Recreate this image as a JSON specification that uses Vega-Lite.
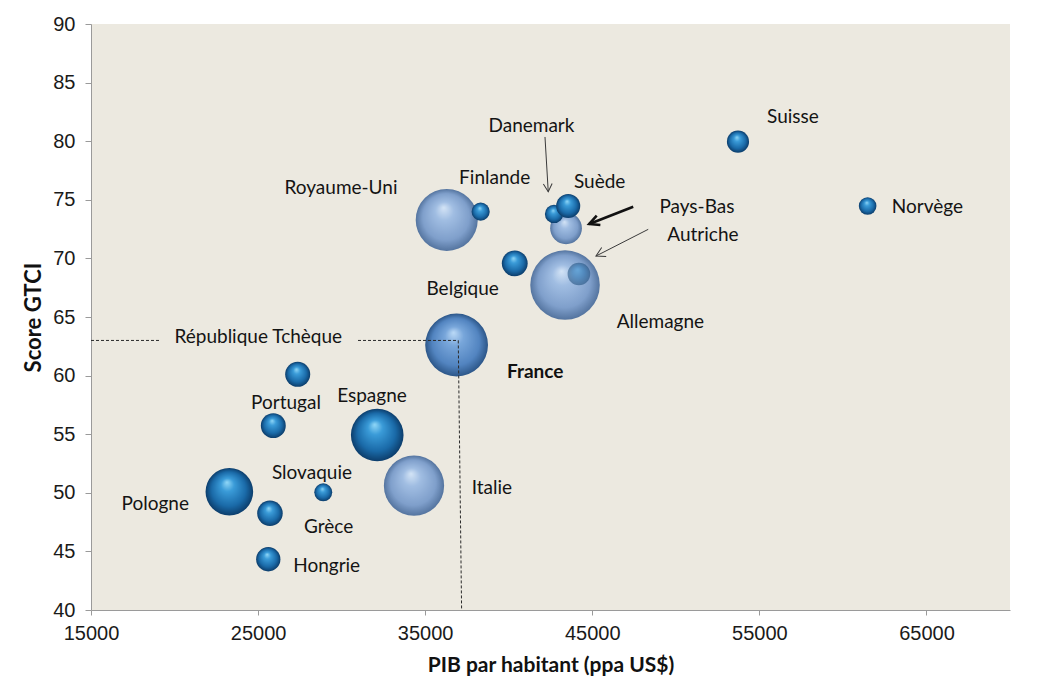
{
  "$schema": "https://vega.github.io/schema/vega-lite/v6.json",
  "width": 919,
  "height": 586,
  "autosize": {"type": "none"},
  "padding": {"left": 91, "top": 24, "right": 35, "bottom": 76},
  "background": "white",
  "config": {"view": {"fill": "#ECE9E0", "stroke": null}, "font": "Lato"},
  "datasets": {
    "pays": [
      {"pays": "Royaume-Uni", "pib": 36290, "gtci": 73.28, "pop": 64.5, "teinte": "clair"},
      {"pays": "Pays-Bas", "pib": 43430, "gtci": 72.57, "pop": 16.9, "teinte": "clair"},
      {"pays": "Italie", "pib": 34330, "gtci": 50.61, "pop": 60.8, "teinte": "clair"},
      {"pays": "Allemagne", "pib": 43370, "gtci": 67.73, "pop": 81.0, "teinte": "clair"},
      {"pays": "France", "pib": 36880, "gtci": 62.61, "pop": 66.0, "teinte": "moyen"},
      {"pays": "Suisse", "pib": 53720, "gtci": 79.96, "pop": 8.2, "teinte": "foncé"},
      {"pays": "Norvège", "pib": 61480, "gtci": 74.47, "pop": 5.2, "teinte": "foncé"},
      {"pays": "Finlande", "pib": 38320, "gtci": 73.99, "pop": 5.5, "teinte": "foncé"},
      {"pays": "Danemark", "pib": 42710, "gtci": 73.79, "pop": 5.6, "teinte": "foncé"},
      {"pays": "Suède", "pib": 43560, "gtci": 74.47, "pop": 9.7, "teinte": "foncé"},
      {"pays": "Belgique", "pib": 40360, "gtci": 69.58, "pop": 11.2, "teinte": "foncé"},
      {"pays": "République Tchèque", "pib": 27370, "gtci": 60.11, "pop": 10.5, "teinte": "foncé"},
      {"pays": "Portugal", "pib": 25910, "gtci": 55.73, "pop": 10.4, "teinte": "foncé"},
      {"pays": "Espagne", "pib": 32130, "gtci": 54.93, "pop": 46.4, "teinte": "foncé"},
      {"pays": "Pologne", "pib": 23280, "gtci": 50.09, "pop": 38.0, "teinte": "foncé"},
      {"pays": "Slovaquie", "pib": 28900, "gtci": 50.04, "pop": 5.4, "teinte": "foncé"},
      {"pays": "Grèce", "pib": 25710, "gtci": 48.25, "pop": 10.9, "teinte": "foncé"},
      {"pays": "Hongrie", "pib": 25610, "gtci": 44.33, "pop": 9.9, "teinte": "foncé"},
      {"pays": "Autriche", "pib": 44200, "gtci": 68.67, "pop": 8.6, "teinte": "estompé"}
    ],
    "etiquettes": [
      {"texte": "Suisse", "pib": 57008, "gtci": 82.09},
      {"texte": "Norvège", "pib": 65056, "gtci": 74.41},
      {"texte": "Pays-Bas", "pib": 51263, "gtci": 74.36},
      {"texte": "Autriche", "pib": 51622, "gtci": 72.0},
      {"texte": "Danemark", "pib": 41360, "gtci": 81.3},
      {"texte": "Finlande", "pib": 39157, "gtci": 76.89},
      {"texte": "Suède", "pib": 45441, "gtci": 76.54},
      {"texte": "Belgique", "pib": 37243, "gtci": 67.39},
      {"texte": "Allemagne", "pib": 49079, "gtci": 64.6},
      {"texte": "Royaume-Uni", "pib": 29960, "gtci": 76.01},
      {"texte": "République Tchèque", "pib": 25011, "gtci": 63.32},
      {"texte": "France", "pib": 41587, "gtci": 60.33},
      {"texte": "Portugal", "pib": 26669, "gtci": 57.64},
      {"texte": "Espagne", "pib": 31815, "gtci": 58.26},
      {"texte": "Slovaquie", "pib": 28225, "gtci": 51.66},
      {"texte": "Pologne", "pib": 18848, "gtci": 49.02},
      {"texte": "Grèce", "pib": 29224, "gtci": 47.11},
      {"texte": "Hongrie", "pib": 29104, "gtci": 43.75},
      {"texte": "Italie", "pib": 38996, "gtci": 50.41}
    ],
    "fleches": [
      {"vers": "Danemark", "pib": 42170, "gtci": 80.36, "pib2": 42365, "gtci2": 75.69},
      {"vers": "Pays-Bas", "pib": 47451, "gtci": 74.41, "pib2": 44818, "gtci2": 72.94},
      {"vers": "Autriche", "pib": 48349, "gtci": 72.48, "pib2": 45219, "gtci2": 70.2}
    ],
    "reperes": [
      {"pib": 15000, "gtci": 63.0, "pib2": 19130, "gtci2": 63.0},
      {"pib": 30980, "gtci": 63.0, "pib2": 36980, "gtci2": 63.0},
      {"pib": 36980, "gtci": 63.0, "pib2": 37180, "gtci2": 40}
    ]
  },
  "encoding": {
    "x": {
      "field": "pib", "type": "quantitative",
      "scale": {"domain": [15000, 70000], "nice": false, "zero": false},
      "axis": {
        "values": [15000, 25000, 35000, 45000, 55000, 65000], "format": "d",
        "title": "PIB par habitant (ppa US$)", "grid": false,
        "domainColor": "#9a9a9a", "tickColor": "#9a9a9a", "tickSize": 5,
        "labelFont": "Liberation Sans", "labelFontSize": 20, "labelColor": "#1a1a1a",
        "labelPadding": 8, "labelFlush": false, "labelOverlap": false,
        "titleFont": "Lato", "titleFontSize": 21, "titleFontWeight": "bold", "titleColor": "#111",
        "titlePadding": 11
      }
    },
    "y": {
      "field": "gtci", "type": "quantitative",
      "scale": {"domain": [40, 90], "nice": false, "zero": false},
      "axis": {
        "values": [40, 45, 50, 55, 60, 65, 70, 75, 80, 85, 90],
        "title": "Score GTCI", "grid": false,
        "domainColor": "#9a9a9a", "tickColor": "#9a9a9a", "tickSize": 6,
        "labelFont": "Liberation Sans", "labelFontSize": 20, "labelColor": "#1a1a1a",
        "labelPadding": 10, "labelOverlap": false,
        "titleFont": "Lato", "titleFontSize": 22, "titleFontWeight": "bold", "titleColor": "#111",
        "titlePadding": 7
      }
    }
  },
  "layer": [
    {
      "data": {"name": "pays"},
      "transform": [{"filter": "datum.teinte === 'clair'"}],
      "mark": {
        "type": "circle", "opacity": 1,
        "fill": {"gradient": "radial", "x1": 0.45, "y1": 0.3, "r1": 0, "x2": 0.5, "y2": 0.5, "r2": 0.5,
          "stops": [{"offset": 0, "color": "#d4e4f6"}, {"offset": 0.3, "color": "#a0bde2"}, {"offset": 0.75, "color": "#7f9fcb"}, {"offset": 1, "color": "#54749f"}]}
      },
      "encoding": {
        "size": {"field": "pop", "type": "quantitative", "scale": {"type": "linear", "domain": [0, 100], "range": [0, 5970]}, "legend": null}
      }
    },
    {
      "data": {"name": "pays"},
      "transform": [{"filter": "datum.teinte === 'moyen'"}],
      "mark": {
        "type": "circle", "opacity": 1,
        "fill": {"gradient": "radial", "x1": 0.45, "y1": 0.3, "r1": 0, "x2": 0.5, "y2": 0.5, "r2": 0.5,
          "stops": [{"offset": 0, "color": "#bcdaf7"}, {"offset": 0.3, "color": "#78a6da"}, {"offset": 0.75, "color": "#5284c0"}, {"offset": 1, "color": "#2c5688"}]}
      },
      "encoding": {
        "size": {"field": "pop", "type": "quantitative", "scale": {"type": "linear", "domain": [0, 100], "range": [0, 5970]}, "legend": null}
      }
    },
    {
      "data": {"name": "pays"},
      "transform": [{"filter": "datum.teinte === 'foncé'"}],
      "mark": {
        "type": "circle", "opacity": 1,
        "fill": {"gradient": "radial", "x1": 0.45, "y1": 0.3, "r1": 0, "x2": 0.5, "y2": 0.5, "r2": 0.5,
          "stops": [{"offset": 0, "color": "#92d8f8"}, {"offset": 0.28, "color": "#3a9bd8"}, {"offset": 0.72, "color": "#1a6aa8"}, {"offset": 1, "color": "#0c3d6b"}]}
      },
      "encoding": {
        "size": {"field": "pop", "type": "quantitative", "scale": {"type": "linear", "domain": [0, 100], "range": [0, 5970]}, "legend": null}
      }
    },
    {
      "data": {"name": "pays"},
      "transform": [{"filter": "datum.teinte === 'estompé'"}],
      "mark": {
        "type": "circle", "opacity": 0.5,
        "fill": {"gradient": "radial", "x1": 0.45, "y1": 0.3, "r1": 0, "x2": 0.5, "y2": 0.5, "r2": 0.5,
          "stops": [{"offset": 0, "color": "#3a9bd8"}, {"offset": 0.5, "color": "#1a6aa8"}, {"offset": 1, "color": "#0c3d6b"}]}
      },
      "encoding": {
        "size": {"field": "pop", "type": "quantitative", "scale": {"type": "linear", "domain": [0, 100], "range": [0, 5970]}, "legend": null}
      }
    },
    {
      "data": {"name": "reperes"},
      "mark": {"type": "rule", "color": "#2a2a2a", "strokeWidth": 1, "strokeDash": [3, 2]},
      "encoding": {
        "x2": {"field": "pib2"},
        "y2": {"field": "gtci2"}
      }
    },
    {
      "data": {"name": "fleches"},
      "transform": [{"filter": "datum.vers !== 'Pays-Bas'"}],
      "mark": {"type": "rule", "color": "#3a3a3a", "strokeWidth": 1},
      "encoding": {"x2": {"field": "pib2"}, "y2": {"field": "gtci2"}}
    },
    {
      "data": {"name": "fleches"},
      "transform": [{"filter": "datum.vers === 'Pays-Bas'"}],
      "mark": {"type": "rule", "color": "#111", "strokeWidth": 2.6},
      "encoding": {"x2": {"field": "pib2"}, "y2": {"field": "gtci2"}}
    },
    {
      "data": {"name": "fleches"},
      "transform": [{"filter": "datum.vers === 'Danemark'"}],
      "mark": {"type": "point", "shape": "M -1 -0.55 L 0 0 L -1 0.55", "filled": false, "stroke": "#3a3a3a", "strokeWidth": 1, "size": 256, "angle": 86.5, "opacity": 1},
      "encoding": {"x": {"field": "pib2", "type": "quantitative"}, "y": {"field": "gtci2", "type": "quantitative"}}
    },
    {
      "data": {"name": "fleches"},
      "transform": [{"filter": "datum.vers === 'Pays-Bas'"}],
      "mark": {"type": "point", "shape": "M -1 -0.5 L 0 0 L -1 0.5", "filled": false, "stroke": "#111", "strokeWidth": 2.6, "size": 400, "angle": 158.5, "opacity": 1},
      "encoding": {"x": {"field": "pib2", "type": "quantitative"}, "y": {"field": "gtci2", "type": "quantitative"}}
    },
    {
      "data": {"name": "fleches"},
      "transform": [{"filter": "datum.vers === 'Autriche'"}],
      "mark": {"type": "point", "shape": "M -1 -0.55 L 0 0 L -1 0.55", "filled": false, "stroke": "#3a3a3a", "strokeWidth": 1, "size": 324, "angle": 153, "opacity": 1},
      "encoding": {"x": {"field": "pib2", "type": "quantitative"}, "y": {"field": "gtci2", "type": "quantitative"}}
    },
    {
      "data": {"name": "etiquettes"},
      "transform": [{"filter": "datum.texte !== 'France'"}],
      "mark": {"type": "text", "font": "Lato", "fontSize": 19, "color": "#141414", "align": "center", "baseline": "middle"},
      "encoding": {"text": {"field": "texte"}}
    },
    {
      "data": {"name": "etiquettes"},
      "transform": [{"filter": "datum.texte === 'France'"}],
      "mark": {"type": "text", "font": "Lato", "fontSize": 19, "fontWeight": "bold", "color": "#111", "align": "center", "baseline": "middle"},
      "encoding": {"text": {"field": "texte"}}
    }
  ]
}
